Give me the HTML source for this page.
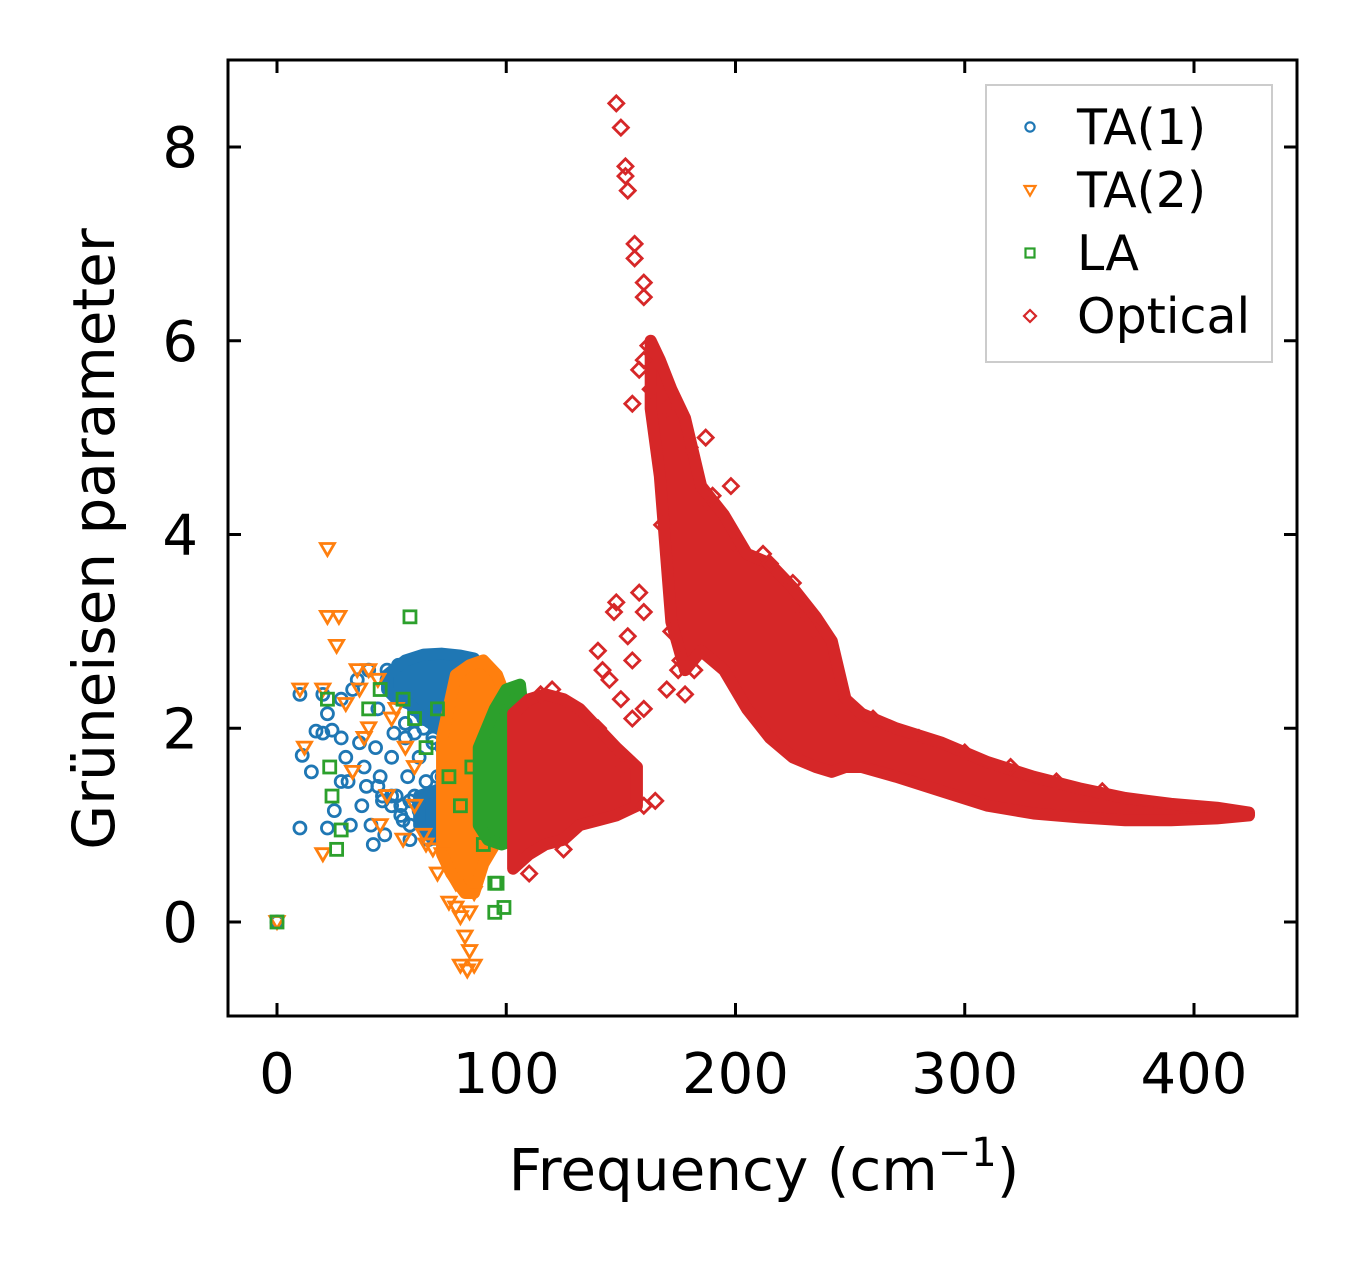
<!DOCTYPE html>
<html><head><meta charset="utf-8"><style>
body{margin:0;background:#fff;}
svg{display:block;font-family:"DejaVu Sans","Liberation Sans",sans-serif;}
</style></head><body>
<svg id="chart" width="1357" height="1264" viewBox="0 0 1357 1264">
<g id="plot"></g>
<g id="axes"></g>
</svg>
<script>
// ---- data ----
const xTicks=[0,100,200,300,400];
const yTicks=[0,2,4,6,8];
const ta1X=[0,10,10,11,15,17,20,20,22,24,25,22,28,28,28,30,31,32,33,35,36,37,39,40,41,42,43,44,45,46,47,48,50,51,52,53,55,56,57,58,60,62,63,64,65,66,68,70,72,74,75,77,78,80,81,82,38,44,50,54,58,62,66,70,74,78,60,64,68,72,76,80,48,52,56,60,64,68,72,76,80,84,70,74,78,46,50,54,58,62,66,70,74,78,82,56,60,64,68,72,76,80,66,70,74,78,82];
const ta1Y=[0,2.35,0.97,1.72,1.55,1.97,1.95,2.35,2.15,1.98,1.15,0.97,2.3,1.9,1.45,1.7,1.45,1.0,2.4,2.5,1.85,1.2,1.4,2.6,1.0,0.8,1.8,2.2,1.5,1.3,0.9,2.6,1.7,1.95,1.3,2.65,1.05,1.9,1.5,0.85,1.3,1.7,1.0,2.1,1.45,0.85,1.85,1.0,1.5,1.9,0.95,1.2,2.0,1.4,1.0,1.7,1.6,1.4,1.2,1.1,1.0,1.15,1.05,0.95,1.1,1.2,2.2,2.0,1.9,1.8,2.1,2.3,2.5,2.45,2.4,2.2,2.35,2.5,2.3,2.1,1.8,1.6,1.5,1.3,1.6,1.25,1.3,1.2,1.25,1.2,1.1,1.15,1.05,1.0,0.95,2.05,1.95,2.15,2.2,2.0,1.9,1.75,1.3,1.35,1.2,1.1,1.25];
const ta1BandX=[48,56,64,72,80,86,86,82,76,70,64,58,52,48];
const ta1BandY=[2.55,2.7,2.76,2.77,2.75,2.72,2.45,2.3,2.1,2.0,2.1,2.25,2.3,2.4];
const ta1LowBandX=[62,68,74,80,82,80,74,68,62];
const ta1LowBandY=[1.3,1.35,1.3,1.25,1.0,0.9,0.85,0.85,1.0];
const ta2X=[0,10,12,20,20,22,22,27,26,30,33,35,38,40,45,50,55,60,65,70,75,78,80,82,84,80,83,86,84,86,78,72,68,64,60,56,52,48,44,40,36];
const ta2Y=[0,2.4,1.8,0.7,2.4,3.85,3.15,3.15,2.85,2.25,1.55,2.6,1.9,2.0,1.0,2.1,0.85,1.2,0.8,0.5,0.2,0.15,0.05,-0.15,-0.3,-0.45,-0.5,-0.45,0.1,0.3,0.4,0.7,0.75,0.9,1.6,1.8,2.2,1.3,2.5,2.6,2.4];
const ta2BandX=[72,78,84,90,96,100,100,95,90,86,82,76,72];
const ta2BandY=[1.9,2.55,2.65,2.7,2.55,2.3,1.0,0.8,0.6,0.3,0.3,0.5,0.7];
const laX=[0,22,23,24,26,28,40,45,55,58,60,65,70,75,80,85,90,95,95,99,96,120,125,118];
const laY=[0,2.3,1.6,1.3,0.75,0.95,2.2,2.4,2.3,3.15,2.1,1.8,2.2,1.5,1.2,1.6,0.8,0.4,0.1,0.15,0.4,1.3,1.25,1.0];
const laBandX=[88,95,100,106,110,116,116,110,104,98,92,88];
const laBandY=[1.8,2.2,2.4,2.45,1.6,1.35,1.1,1.0,0.85,0.8,0.85,1.0];
const optX=[148,150,152,152,153,156,156,160,160,162,160,158,155,163,187,198,188,168,170,178,175,148,147,158,160,153,140,142,145,155,150,155,160,148,150,165,160,125,110,212,225,235,170,172,176,180,182,190,200,215,230,245,260,280,300,320,340,360,120,130,140,115];
const optY=[8.45,8.2,7.8,7.7,7.55,7.0,6.85,6.6,6.45,5.95,5.8,5.7,5.35,5.5,5.0,4.5,4.3,4.1,2.4,2.35,2.6,3.3,3.2,3.4,3.2,2.95,2.8,2.6,2.5,2.7,2.3,2.1,2.2,1.7,1.6,1.25,1.2,0.75,0.5,3.8,3.5,3.0,5.3,3.0,2.7,4.9,2.6,4.4,3.9,3.7,3.2,2.2,2.1,1.9,1.75,1.6,1.45,1.35,2.4,2.2,2.0,2.35];
const optAX=[103,110,117,125,132,140,148,157];
const optAUp=[2.15,2.3,2.35,2.3,2.2,2.0,1.8,1.6];
const optALo=[0.55,0.7,0.8,0.85,1.0,1.05,1.1,1.2];
const optBX=[163,167,172,178,185,195,205,215,225,235,242,248,255,270,290,310,330,350,370,390,410,424];
const optBUp=[6.0,5.8,5.5,5.2,4.5,4.2,3.8,3.7,3.45,3.15,2.9,2.3,2.15,2.0,1.85,1.65,1.5,1.38,1.28,1.22,1.18,1.13];
const optBLo=[5.3,4.6,3.1,2.6,2.8,2.6,2.2,1.9,1.7,1.6,1.55,1.6,1.6,1.5,1.35,1.2,1.12,1.08,1.05,1.05,1.07,1.1];

// ---- axes ----
const L=228,R=1297,T=60,B=1016;
const sx=v=>277+v*(1194-277)/400;
const sy=v=>922-v*(922-147)/8;
const NS="http://www.w3.org/2000/svg";
const plot=document.getElementById('plot'), axes=document.getElementById('axes');
function mk(tag,attrs,parent){const e=document.createElementNS(NS,tag);for(const k in attrs)e.setAttribute(k,attrs[k]);parent.appendChild(e);return e;}
const C={b:'#1f77b4',o:'#ff7f0e',g:'#2ca02c',r:'#d62728'};

function marker(kind,x,y,col,parent){
  let e;
  if(kind==='o'){e=mk('circle',{cx:x,cy:y,r:6,fill:'none',stroke:col,'stroke-width':2.8},parent);}
  else if(kind==='v'){e=mk('path',{d:`M${x-7},${y-5.5}L${x+7},${y-5.5}L${x},${y+6.5}Z`,fill:'none',stroke:col,'stroke-width':2.8},parent);}
  else if(kind==='s'){e=mk('rect',{x:x-6,y:y-6,width:12,height:12,fill:'none',stroke:col,'stroke-width':2.8},parent);}
  else {e=mk('path',{d:`M${x},${y-7.5}L${x+7.5},${y}L${x},${y+7.5}L${x-7.5},${y}Z`,fill:'none',stroke:col,'stroke-width':2.8},parent);}
  return e;
}
function polyBand(xs,ys,col,name){
  const p=mk('polygon',{points:xs.map((v,i)=>sx(v)+','+sy(ys[i])).join(' '),fill:col,stroke:col,'stroke-width':12,'stroke-linejoin':'round'},plot);
  
  
}
function band2(xs,up,lo,col,name){
  polyBand(xs.concat(xs.slice().reverse()),up.concat(lo.slice().reverse()),col,name);
}
function series(xs,ys,kind,col,name){
  const g=mk('g',{},plot);
  
  
  xs.forEach((v,i)=>{const m=marker(kind,sx(v),sy(ys[i]),col,g);
    
    });
}
series(ta1X,ta1Y,'o',C.b,'ta1-series');
polyBand(ta1BandX,ta1BandY,C.b,'ta1-dense-region');
polyBand(ta1LowBandX,ta1LowBandY,C.b,'ta1-dense-region-low');
polyBand(ta2BandX,ta2BandY,C.o,'ta2-dense-region');
series(ta2X,ta2Y,'v',C.o,'ta2-series');
polyBand(laBandX,laBandY,C.g,'la-dense-region');
series(laX,laY,'s',C.g,'la-series');
band2(optAX,optAUp,optALo,C.r,'optical-dense-region-low');
band2(optBX,optBUp,optBLo,C.r,'optical-dense-region-high');
series(optX,optY,'d',C.r,'optical-series');

// frame
const fr=mk('rect',{x:L,y:T,width:R-L,height:B-T,fill:'none',stroke:'#000','stroke-width':3},axes);

xTicks.forEach(v=>{const x=sx(v);
  mk('line',{x1:x,x2:x,y1:B,y2:B-13,stroke:'#000','stroke-width':3},axes);
  mk('line',{x1:x,x2:x,y1:T,y2:T+13,stroke:'#000','stroke-width':3},axes);
  const t=mk('text',{x:x,y:1093,'font-size':56,'text-anchor':'middle'},axes);t.textContent=v;
  
  
});
yTicks.forEach(v=>{const y=sy(v);
  mk('line',{x1:L,x2:L+13,y1:y,y2:y,stroke:'#000','stroke-width':3},axes);
  mk('line',{x1:R,x2:R-13,y1:y,y2:y,stroke:'#000','stroke-width':3},axes);
  const t=mk('text',{x:198,y:y+20,'font-size':56,'text-anchor':'end'},axes);t.textContent=v;
  
  
});
</script>
<div style="position:absolute;left:0;top:0;width:1357px;height:1264px;pointer-events:none">
<svg width="1357" height="1264" style="font-family:'DejaVu Sans','Liberation Sans',sans-serif">
<text x="764" y="1190" font-size="58" text-anchor="middle">Frequency (cm<tspan dy="-24" font-size="40">−1</tspan><tspan dy="24">)</tspan></text>
<text transform="translate(114,539) rotate(-90)" font-size="58" text-anchor="middle">Grüneisen parameter</text>
<g>
<rect x="986" y="85" width="286" height="277" fill="#fff" fill-opacity="0.8" stroke="#ccc" stroke-width="2"/>
<g><circle cx="1030" cy="127" r="4.6" fill="none" stroke="#1f77b4" stroke-width="2.2"/><text x="1077" y="144" font-size="49">TA(1)</text></g>
<g><path d="M1024.5,186L1035.5,186L1030,195.5Z" fill="none" stroke="#ff7f0e" stroke-width="2.2"/><text x="1077" y="207" font-size="49">TA(2)</text></g>
<g><rect x="1025.5" y="248.5" width="9" height="9" fill="none" stroke="#2ca02c" stroke-width="2.2"/><text x="1077" y="270" font-size="49">LA</text></g>
<g><path d="M1030,310L1036,316L1030,322L1024,316Z" fill="none" stroke="#d62728" stroke-width="2.2"/><text x="1077" y="333" font-size="49">Optical</text></g>
</g>
</svg></div>
</body></html>
